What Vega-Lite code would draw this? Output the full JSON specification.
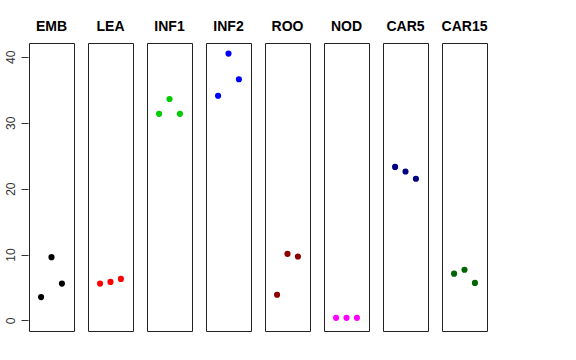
{
  "$schema": "https://vega.github.io/schema/vega-lite/v6.json",
  "background": "white",
  "padding": {"left": 3, "top": 20, "right": 0, "bottom": 0},
  "data": {"values": [
    {"g": "EMB", "i": 1, "v": 3.55}, {"g": "EMB", "i": 2, "v": 9.6}, {"g": "EMB", "i": 3, "v": 5.6},
    {"g": "LEA", "i": 1, "v": 5.6}, {"g": "LEA", "i": 2, "v": 5.85}, {"g": "LEA", "i": 3, "v": 6.3},
    {"g": "INF1", "i": 1, "v": 31.35}, {"g": "INF1", "i": 2, "v": 33.6}, {"g": "INF1", "i": 3, "v": 31.35},
    {"g": "INF2", "i": 1, "v": 34.1}, {"g": "INF2", "i": 2, "v": 40.5}, {"g": "INF2", "i": 3, "v": 36.6},
    {"g": "ROO", "i": 1, "v": 3.9}, {"g": "ROO", "i": 2, "v": 10.1}, {"g": "ROO", "i": 3, "v": 9.7},
    {"g": "NOD", "i": 1, "v": 0.4}, {"g": "NOD", "i": 2, "v": 0.4}, {"g": "NOD", "i": 3, "v": 0.4},
    {"g": "CAR5", "i": 1, "v": 23.3}, {"g": "CAR5", "i": 2, "v": 22.6}, {"g": "CAR5", "i": 3, "v": 21.5},
    {"g": "CAR15", "i": 1, "v": 7.1}, {"g": "CAR15", "i": 2, "v": 7.7}, {"g": "CAR15", "i": 3, "v": 5.7}
  ]},
  "spacing": 12,
  "facet": {
    "column": {
      "field": "g",
      "type": "nominal",
      "sort": ["EMB", "LEA", "INF1", "INF2", "ROO", "NOD", "CAR5", "CAR15"],
      "header": {"title": null, "labelFont": "Liberation Sans", "labelFontWeight": "bold", "labelFontSize": 14, "labelColor": "black", "labelPadding": 8}
    }
  },
  "spec": {
    "width": 45,
    "height": 288,
    "mark": {"type": "point", "filled": true, "size": 38, "opacity": 1},
    "encoding": {
      "x": {"field": "i", "type": "quantitative", "scale": {"domain": [-0.16, 4.16], "nice": false, "zero": false}, "axis": null},
      "y": {"field": "v", "type": "quantitative", "scale": {"domain": [-1.6, 42.1], "nice": false, "zero": false},
        "axis": {"title": null, "values": [0, 10, 20, 30, 40], "grid": false, "domain": false, "tickSize": 7, "tickColor": "#333", "labelAngle": -90, "labelAlign": "center", "labelBaseline": "bottom", "labelPadding": 4, "labelFont": "Liberation Sans", "labelFontSize": 12, "labelColor": "#333"}},
      "color": {"field": "g", "type": "nominal", "legend": null,
        "scale": {"domain": ["EMB", "LEA", "INF1", "INF2", "ROO", "NOD", "CAR5", "CAR15"],
          "range": ["#000000", "#FF0000", "#00CD00", "#0000FF", "#8B0000", "#FF00FF", "#000080", "#006400"]}}
    }
  },
  "config": {"view": {"stroke": "#222", "strokeWidth": 1}}
}
